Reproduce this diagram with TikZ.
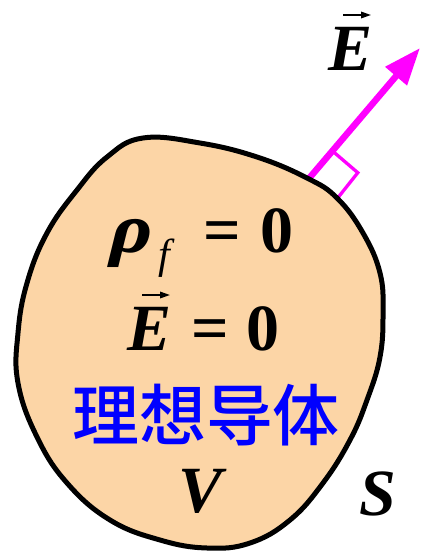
\documentclass[tikz,border=0pt]{standalone}
\usepackage{fontspec}
\usepackage{graphicx}
\setmainfont{Liberation Serif}
\newfontfamily\rhofont[FakeSlant=0.22]{Liberation Serif Bold}
\newfontfamily\cjk[UprightFont={* Medium},BoldFont={* Bold}]{Noto Sans CJK SC}
\usetikzlibrary{arrows.meta}
\definecolor{peach}{HTML}{FCD5A6}
\definecolor{mag}{HTML}{FF00FF}
\definecolor{cnblue}{HTML}{0000FF}
\tikzset{
  big/.style={font=\fontsize{66}{66}\selectfont, inner sep=0pt, anchor=base west},
  vecarrow/.style={line width=1.7pt, -{Triangle[length=10pt,width=6.5pt]}},
  blob/.style={line width=5pt, fill=peach, draw=black},
  fieldarrow/.style={mag, line width=6.5pt, -{Triangle[length=37pt,width=27pt]}},
  rightangle/.style={mag, line width=3.3pt, miter limit=10},
}
\begin{document}
\begin{tikzpicture}[x=1pt,y=-1pt]
\useasboundingbox (0,0) rectangle (422,552);
% field arrow and right-angle mark
\coordinate (Estart) at (300,189);
\coordinate (Etip) at (420,48);
\draw[fieldarrow] (Estart) -- (Etip);
\coordinate (P) at (332.7,151.2);
\coordinate (C) at (357.8,172.7);
\coordinate (Q) at (336.3,199.7);
\draw[rightangle] (P) -- (C) -- (Q);
% conductor
\draw[blob] plot[smooth cycle, tension=0.7] coordinates {
 (143,138) (200,143) (257,157) (307,178) (337,198) (363,233) (380,273)
 (383,313) (380,357) (367,400) (350,440) (323,483) (290,520) (250,543)
 (207,548) (160,540) (110,520) (67,483) (37,437) (18,383) (18,333)
 (27,283) (47,233) (77,190) (107,157)};
% labels
\node[big] (Etop) at (328,70) {\bfseries\itshape E};
\draw[vecarrow] ([shift={(15,-55)}]Etop.base west) -- ([shift={(43,-55)}]Etop.base west);
\node[big] (rho) at (106,252) {\scalebox{1.2}[1.07]{\rhofont ρ}\hspace{10pt}\raisebox{-16pt}{\fontsize{42}{42}\selectfont\itshape f}};
\node[big] (eq1) at (203,252) {\bfseries =\hspace{20pt}0};
\node[big] (E1) at (127,350) {\bfseries\itshape E};
\draw[vecarrow] ([shift={(15,-55)}]E1.base west) -- ([shift={(43,-55)}]E1.base west);
\node[big] (eq2) at (191,350) {\bfseries =\hspace{18pt}0};
\node[inner sep=0pt, anchor=base, font=\fontsize{67}{67}\selectfont\cjk, text=cnblue] (cn) at (206,440) {理想导体};
\node[big] (V) at (178,512) {\bfseries\itshape V};
\node[big] (S) at (359,515) {\bfseries\itshape S};
\end{tikzpicture}
\end{document}
